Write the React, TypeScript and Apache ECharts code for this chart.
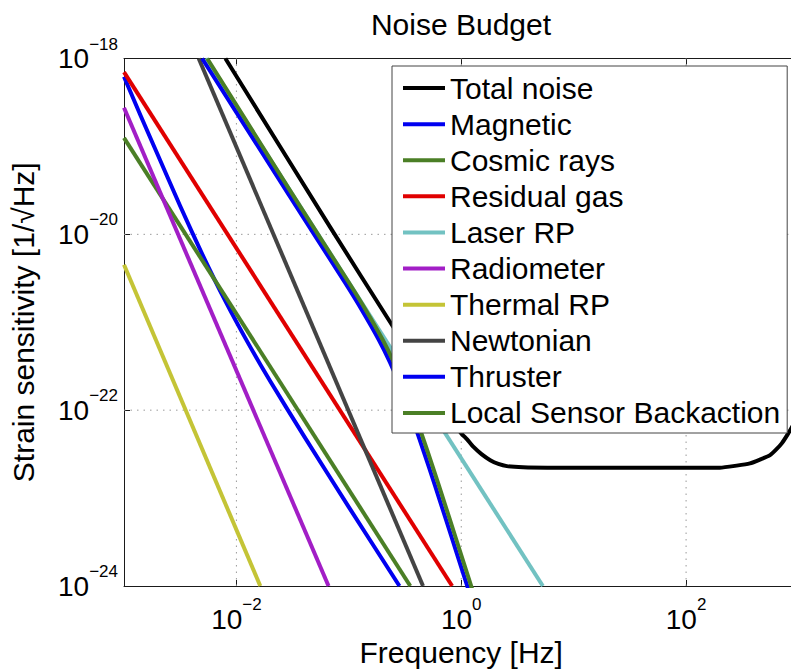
import React, { useEffect, useRef } from 'react';
import * as echarts from 'echarts';

const FONT = '"Liberation Sans", Arial, Helvetica, sans-serif';

// Legend / series order
const seriesNames = [
  'Total noise',
  'Magnetic',
  'Cosmic rays',
  'Residual gas',
  'Laser RP',
  'Radiometer',
  'Thermal RP',
  'Newtonian',
  'Thruster',
  'Local Sensor Backaction',
];
const seriesColors = [
  '#000000',
  '#0000f0',
  '#4b7f26',
  '#e00000',
  '#72c2c2',
  '#a21ec6',
  '#c4c436',
  '#444444',
  '#0000f0',
  '#4b7f26',
];

// Frequencies [Hz] and strain values [1/sqrt(Hz)]
const totalFreq = [7.98e-3, 0.0684, 0.242, 0.5, 0.979, 1.122, 1.279, 1.514, 1.811, 2.138, 2.547, 3.548, 5.81, 20, 100, 199.5, 281.8, 369.8, 457, 558.5, 631, 709.6, 810.9, 912, 1000];
const totalVals = [1e-18, 1.2e-20, 9.3e-22, 2.2e-22, 5.64e-23, 4.68e-23, 3.84e-23, 3.16e-23, 2.7e-23, 2.45e-23, 2.31e-23, 2.24e-23, 2.22e-23, 2.22e-23, 2.22e-23, 2.22e-23, 2.34e-23, 2.48e-23, 2.75e-23, 3.08e-23, 3.55e-23, 4.19e-23, 5.45e-23, 7.08e-23, 8.9e-23];

const magneticFreq = [1e-3, 1.41e-3, 2e-3, 3.16e-3, 5.01e-3, 7.94e-3, 0.0126, 0.02, 0.0398, 0.1, 0.282];
const magneticVals = [6.2e-19, 2.22e-19, 8.0e-20, 2.1e-20, 5.8e-21, 1.76e-21, 5.9e-22, 2.13e-22, 5.1e-23, 7.9e-24, 1e-24];

const cosmicFreq = [1e-3, 0.352];
const cosmicVals = [1.25e-19, 1e-24];

const gasFreq = [1e-3, 0.83];
const gasVals = [7e-19, 1e-24];

const laserFreq = [5.32e-3, 5.32];
const laserVals = [1e-18, 1e-24];

const radiometerFreq = [1e-3, 0.066];
const radiometerVals = [2.75e-19, 1e-24];

const thermalFreq = [1e-3, 0.0163];
const thermalVals = [4.5e-21, 1e-24];

const newtonianFreq = [4.62e-3, 0.457];
const newtonianVals = [1e-18, 1e-24];

const thrusterFreq = [4.95e-3, 0.0292, 0.0923, 0.1304, 0.1841, 0.2319, 0.2919, 0.3675, 0.4626, 0.5824, 0.7329, 0.923, 1.162];
const thrusterVals = [1e-18, 2.83e-20, 2.83e-21, 1.38e-21, 6.37e-22, 3.52e-22, 1.77e-22, 8.04e-23, 3.41e-23, 1.4e-23, 5.64e-24, 2.25e-24, 8.97e-25];

const backactionFreq = [5.5e-3, 0.0316, 0.1, 0.1413, 0.1995, 0.2512, 0.3162, 0.3981, 0.5012, 0.631, 0.794, 1.0, 1.259];
const backactionVals = [1e-18, 2.83e-20, 2.83e-21, 1.38e-21, 6.37e-22, 3.52e-22, 1.77e-22, 8.04e-23, 3.41e-23, 1.4e-23, 5.64e-24, 2.25e-24, 8.97e-25];

// Axes (decade exponents)
const xMinExp = -3;
const xMaxExp = 3;
const yMinExp = -24;
const yMaxExp = -18;
const xTickExps = [-2, 0, 2];
const yTickExps = [-22, -20];
const yLabelExps = [-24, -22, -20, -18];

const curves = [
  [totalFreq, totalVals],
  [magneticFreq, magneticVals],
  [cosmicFreq, cosmicVals],
  [gasFreq, gasVals],
  [laserFreq, laserVals],
  [radiometerFreq, radiometerVals],
  [thermalFreq, thermalVals],
  [newtonianFreq, newtonianVals],
  [thrusterFreq, thrusterVals],
  [backactionFreq, backactionVals],
];

const supText = (e: number) => (e < 0 ? '\u2212' + Math.abs(e) : String(e));
const powLabel = (v: number) => `{b|10}{s|${supText(Math.round(v))}}`;
const labelRich = {
  b: { fontSize: 28, fontFamily: FONT, color: '#000', lineHeight: 46 },
  s: { fontSize: 17, fontFamily: FONT, color: '#000', lineHeight: 16, verticalAlign: 'top' },
};

export default function App() {
  const ref = useRef<HTMLDivElement>(null);

  useEffect(() => {
    if (!ref.current) return;
    const chart = echarts.init(ref.current, undefined, { renderer: 'svg' });

    const gridStyle = { color: '#9a9a9a', width: 1, type: [1.5, 5] };
    const gridSeries: any[] = [];
    xTickExps.forEach((e) => {
      gridSeries.push({
        type: 'line',
        name: 'gx' + e,
        data: [[e, yMinExp], [e, yMaxExp]],
        symbol: 'none',
        silent: true,
        z: 1,
        lineStyle: gridStyle,
      });
    });
    yTickExps.forEach((e) => {
      gridSeries.push({
        type: 'line',
        name: 'gy' + e,
        data: [[xMinExp, e], [xMaxExp, e]],
        symbol: 'none',
        silent: true,
        z: 1,
        lineStyle: gridStyle,
      });
    });

    const mainSeries = curves.map(([fr, vals], i) => ({
      type: 'line',
      name: seriesNames[i],
      color: seriesColors[i],
      data: (fr as number[]).map((f, j) => [Math.log10(f), Math.log10((vals as number[])[j])]),
      symbol: 'none',
      showSymbol: false,
      silent: true,
      clip: true,
      smooth: (fr as number[]).length > 2 ? 0.2 : false,
      z: 2,
      lineStyle: { color: seriesColors[i], width: 4, join: 'round' },
    }));

    const axisLineStyle = { color: '#1a1a1a', width: 1 };

    chart.setOption({
      animation: false,
      grid: {
        left: 124,
        top: 58.5,
        right: -7.5,
        bottom: 83,
        containLabel: false,
        outerBoundsMode: 'none',
      },
      graphic: [
        {
          type: 'text',
          x: 461,
          y: 24,
          style: {
            text: 'Noise Budget',
            font: `30px ${FONT}`,
            fill: '#000',
            align: 'center',
            verticalAlign: 'middle',
            textAlign: 'center',
            textVerticalAlign: 'middle',
          },
        },
      ],
      legend: {
        data: seriesNames,
        orient: 'vertical',
        left: 392,
        top: 66,
        backgroundColor: '#ffffff',
        borderColor: '#444',
        borderWidth: 1,
        borderRadius: 0,
        padding: [4, 7, 2, 11],
        itemGap: 0,
        itemWidth: 42,
        itemHeight: 4,
        icon: 'rect',
        selectedMode: false,
        textStyle: { fontSize: 30, fontFamily: FONT, color: '#000', lineHeight: 36.1 },
      },
      xAxis: [
        {
          type: 'value',
          min: xMinExp,
          max: xMaxExp,
          position: 'bottom',
          axisLine: { show: true, onZero: false, lineStyle: axisLineStyle },
          axisTick: { show: true, inside: true, length: 6, customValues: xTickExps, lineStyle: axisLineStyle },
          axisLabel: { show: true, customValues: xTickExps, margin: 10, formatter: powLabel, rich: labelRich },
          splitLine: { show: false },
          name: 'Frequency [Hz]',
          nameLocation: 'middle',
          nameGap: 41,
          nameTextStyle: { fontSize: 30, fontFamily: FONT, color: '#000', lineHeight: 30 },
        },
        {
          type: 'value',
          min: xMinExp,
          max: xMaxExp,
          position: 'top',
          axisLine: { show: true, onZero: false, lineStyle: axisLineStyle },
          axisTick: { show: true, inside: true, length: 6, customValues: xTickExps, lineStyle: axisLineStyle },
          axisLabel: { show: false },
          splitLine: { show: false },
        },
      ],
      yAxis: [
        {
          type: 'value',
          min: yMinExp,
          max: yMaxExp,
          position: 'left',
          axisLine: { show: true, onZero: false, lineStyle: axisLineStyle },
          axisTick: { show: true, inside: true, length: 6, customValues: yTickExps, lineStyle: axisLineStyle },
          axisLabel: { show: true, customValues: yLabelExps, margin: 6, formatter: powLabel, rich: labelRich },
          splitLine: { show: false },
          name: 'Strain sensitivity [1/\u221AHz]',
          nameLocation: 'middle',
          nameRotate: 90,
          nameGap: 86,
          nameTextStyle: { fontSize: 30, fontFamily: FONT, color: '#000', lineHeight: 30 },
        },
      ],
      series: [...gridSeries, ...mainSeries],
    });

    return () => chart.dispose();
  }, []);

  return (
    <div
      ref={ref}
      style={{ position: 'fixed', left: 0, top: 0, width: 791, height: 669, background: '#fff' }}
    />
  );
}
